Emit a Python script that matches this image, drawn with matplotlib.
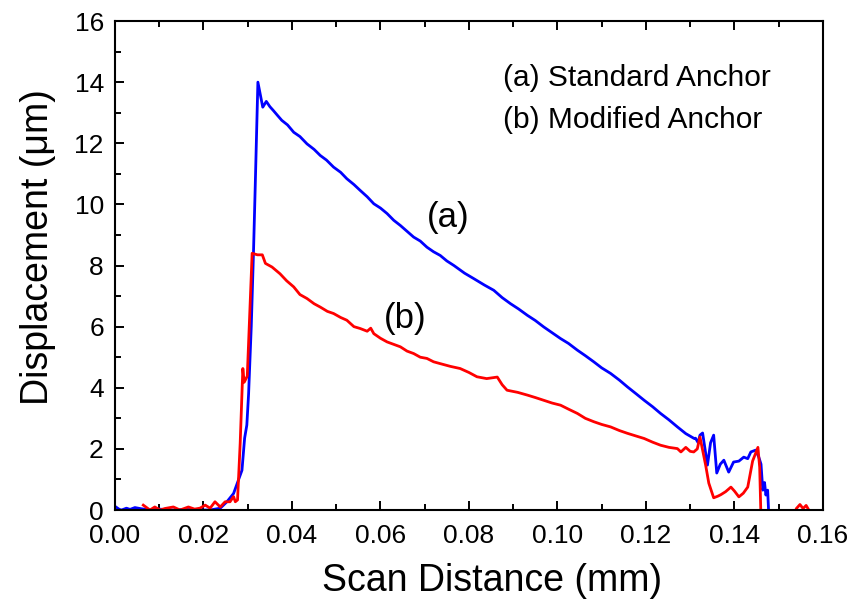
import numpy as np
import matplotlib
matplotlib.use("Agg")
import matplotlib.pyplot as plt
from matplotlib.ticker import MultipleLocator, FormatStrFormatter

plt.rcParams['font.family'] = ['Liberation Sans', 'DejaVu Sans']

# --- (a) Standard Anchor ---
dist_a = [0.0000, 0.0010, 0.0015, 0.0026, 0.0034, 0.0045, 0.0060, 0.0080, 0.0100,
          0.0130, 0.0160, 0.0190, 0.0215, 0.0238, 0.0253, 0.0268, 0.0275, 0.0287,
          0.0293, 0.0298, 0.0302, 0.0308, 0.0313, 0.0317, 0.0323, 0.0334, 0.0342,
          0.0350, 0.0358, 0.0368, 0.0377, 0.0390, 0.0404, 0.0418, 0.0434, 0.0450,
          0.0464, 0.0478, 0.0494, 0.0510, 0.0524, 0.0540, 0.0554, 0.0570, 0.0585,
          0.0600, 0.0615, 0.0630, 0.0645, 0.0660, 0.0675, 0.0690, 0.0705, 0.0720,
          0.0735, 0.0750, 0.0766, 0.0790, 0.0811, 0.0835, 0.0856, 0.0875, 0.0894,
          0.0912, 0.0932, 0.0950, 0.0969, 0.0988, 0.1007, 0.1025, 0.1045, 0.1063,
          0.1082, 0.1100, 0.1120, 0.1140, 0.1158, 0.1178, 0.1196, 0.1215, 0.1233,
          0.1252, 0.1271, 0.1290, 0.1309, 0.1312, 0.1318, 0.1322, 0.1328, 0.1339,
          0.1346, 0.1353, 0.1360, 0.1368, 0.1376, 0.1387, 0.1398, 0.1410, 0.1421,
          0.1430, 0.1437, 0.1448, 0.1455, 0.1460, 0.1464, 0.1468, 0.1471, 0.1475,
          0.1478, 0.1500]
disp_a = [0.12, 0.02, 0.00, 0.06, 0.02, 0.08, 0.04, 0.00, 0.03,
          0.00, 0.02, 0.00, 0.00, 0.06, 0.27, 0.54, 0.82, 1.30,
          2.35, 2.78, 3.80, 6.00, 8.40, 10.6, 14.0, 13.18, 13.37,
          13.20, 13.07, 12.90, 12.75, 12.60, 12.36, 12.22, 11.98, 11.80,
          11.60, 11.45, 11.22, 11.05, 10.84, 10.65, 10.46, 10.25, 10.02,
          9.88, 9.70, 9.48, 9.31, 9.12, 8.93, 8.80, 8.60, 8.45,
          8.33, 8.15, 8.00, 7.75, 7.57, 7.36, 7.19, 6.95, 6.75,
          6.58, 6.37, 6.20, 5.99, 5.80, 5.61, 5.45, 5.23, 5.05,
          4.85, 4.65, 4.47, 4.25, 4.03, 3.80, 3.59, 3.38, 3.16,
          2.95, 2.72, 2.50, 2.34, 2.35, 2.20, 2.45, 2.52, 1.47,
          2.20, 2.45, 1.21, 1.50, 1.63, 1.24, 1.57, 1.60, 1.73,
          1.68, 1.90, 1.96, 1.73, 1.50, 0.65, 0.90, 0.49, 0.65,
          -0.3, -0.3]

# --- (b) Modified Anchor ---
dist_b = [0.0064, 0.0079, 0.0090, 0.0102, 0.0113, 0.0132, 0.0147, 0.0166, 0.0180,
          0.0192, 0.0204, 0.0215, 0.0226, 0.0238, 0.0249, 0.0260, 0.0268, 0.0272,
          0.0277, 0.0283, 0.0289, 0.0292, 0.0299, 0.0310, 0.0322, 0.0333, 0.0340,
          0.0355, 0.0373, 0.0388, 0.0404, 0.0418, 0.0434, 0.0450, 0.0464, 0.0480,
          0.0494, 0.0510, 0.0524, 0.0540, 0.0554, 0.0570, 0.0578, 0.0585, 0.0600,
          0.0615, 0.0630, 0.0645, 0.0660, 0.0675, 0.0690, 0.0705, 0.0720, 0.0735,
          0.0758, 0.0780, 0.0800, 0.0818, 0.0840, 0.0864, 0.0875, 0.0886, 0.0910,
          0.0932, 0.0950, 0.0969, 0.0988, 0.1007, 0.1025, 0.1045, 0.1063, 0.1082,
          0.1100, 0.1120, 0.1140, 0.1158, 0.1178, 0.1196, 0.1215, 0.1233, 0.1252,
          0.1271, 0.1279, 0.1290, 0.1300, 0.1308, 0.1316, 0.1322, 0.1335, 0.1342,
          0.1353, 0.1362, 0.1369, 0.1380, 0.1392, 0.1400, 0.1410, 0.1420, 0.1430,
          0.1441, 0.1453, 0.1457, 0.1460, 0.1530, 0.1540, 0.1548, 0.1555, 0.1562,
          0.1568, 0.1575]
disp_b = [0.16, 0.00, 0.10, 0.00, 0.05, 0.10, 0.00, 0.10, 0.03,
          0.06, 0.16, 0.06, 0.27, 0.10, 0.27, 0.27, 0.44, 0.27,
          0.33, 2.19, 4.63, 4.18, 4.38, 8.40, 8.35, 8.35, 8.07,
          7.95, 7.73, 7.50, 7.30, 7.05, 6.92, 6.75, 6.64, 6.50,
          6.43, 6.30, 6.21, 6.00, 5.94, 5.85, 5.95, 5.77, 5.62,
          5.50, 5.42, 5.34, 5.20, 5.12, 5.00, 4.96, 4.85, 4.79,
          4.70, 4.63, 4.50, 4.36, 4.30, 4.35, 4.10, 3.92, 3.85,
          3.76, 3.68, 3.59, 3.50, 3.43, 3.30, 3.16, 3.00, 2.89,
          2.80, 2.72, 2.60, 2.51, 2.42, 2.34, 2.22, 2.12, 2.05,
          2.01, 1.90, 2.05, 1.92, 1.90, 2.00, 2.39, 1.46, 0.88,
          0.40, 0.45, 0.50, 0.60, 0.75, 0.62, 0.43, 0.55, 0.75,
          1.60, 2.05, 1.40, -0.3, -0.3, 0.05, 0.18, 0.05, 0.15,
          0.00, -0.3]

fig = plt.figure(figsize=(8.67, 6.04), dpi=100)
ax = fig.add_axes([0.1326, 0.1556, 0.8166, 0.8096])

ax.plot(dist_a, disp_a, color='#0000ff', lw=2.0)
ax.plot(dist_b, disp_b, color='#ff0000', lw=2.0)

ax.set_xlim(0, 0.16)
ax.set_ylim(0, 16)
ax.xaxis.set_major_locator(MultipleLocator(0.02))
ax.xaxis.set_minor_locator(MultipleLocator(0.01))
ax.xaxis.set_major_formatter(FormatStrFormatter('%.2f'))
ax.yaxis.set_major_locator(MultipleLocator(2))
ax.yaxis.set_minor_locator(MultipleLocator(1))

ax.tick_params(which='both', direction='in', top=True, right=False, width=1.4)
ax.tick_params(which='major', length=6.5)
ax.tick_params(which='minor', length=4)
ax.tick_params(axis='x', labelsize=19, pad=10)
ax.tick_params(axis='y', labelsize=19, pad=8)
for s in ax.spines.values():
    s.set_linewidth(1.5)

ax.set_xlabel("Scan Distance (mm)", fontsize=27)
ax.set_ylabel("Displacement (\u03bcm)", fontsize=27)
ax.xaxis.set_label_coords(0.533, -0.108)
ax.yaxis.set_label_coords(-0.083, 0.537)

ax.text(0.0878, 14.15, "(a) Standard Anchor", fontsize=21.5, va='center')
ax.text(0.0878, 12.75, "(b) Modified Anchor", fontsize=21.5, va='center')
ax.text(0.0754, 9.58, "(a)", fontsize=25, ha='center', va='center')
ax.text(0.0656, 6.27, "(b)", fontsize=25, ha='center', va='center')

fig.savefig("out.png", dpi=100)
